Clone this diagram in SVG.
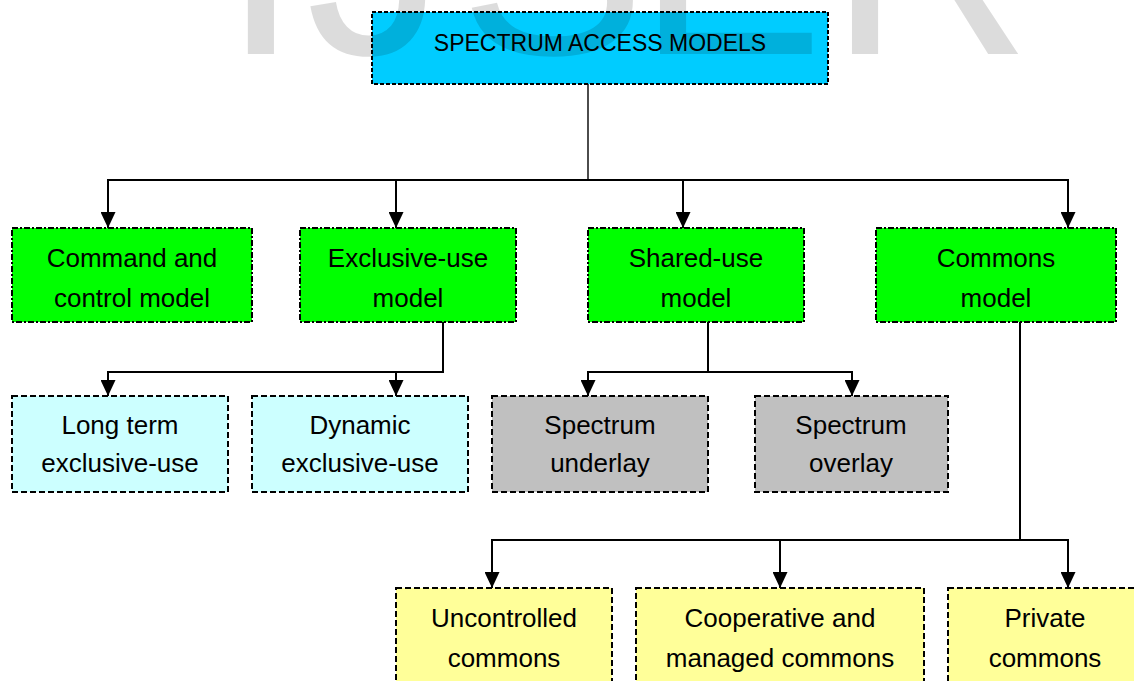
<svg xmlns="http://www.w3.org/2000/svg" width="1134" height="681" viewBox="0 0 1134 681">
  <style>
    .box { stroke: #000; stroke-width: 2; }
    .title { fill: #00CCFF; stroke-dasharray: 4 2; }
    .green { fill: #00FF00; stroke-dasharray: 6 2 2 2; }
    .cyan { fill: #CCFFFF; stroke-dasharray: 6 3; }
    .gray { fill: #C0C0C0; stroke-dasharray: 6 3; }
    .yellow { fill: #FFFF99; stroke-dasharray: 6 3; }
    .lbl { font-family: "Liberation Sans", Arial, sans-serif; font-size: 26px; fill: #000; text-anchor: middle; }
    .ttl { font-family: "Liberation Sans", Arial, sans-serif; font-size: 23px; fill: #000; text-anchor: middle; }
    .conn { fill: none; stroke: #000; stroke-width: 2; }
    .wm { font-family: "Liberation Sans", Arial, sans-serif; font-size: 280px; fill: #000; fill-opacity: 0.137; }
  </style>
  <defs>
    <marker id="arrow" viewBox="0 0 16 15" refX="16" refY="7.5" markerWidth="16" markerHeight="15" orient="auto" markerUnits="userSpaceOnUse">
      <path d="M0,0 L16,7.5 L0,15 z" fill="#000"/>
    </marker>
  </defs>
  <rect width="1134" height="681" fill="#fff"/>

  <g id="connectors">
    <path class="conn" d="M588,84 V180" style="stroke-width:1.4"/>
    <path class="conn" d="M108,228 V180 H1068 V228" marker-end="url(#arrow)"/>
    <path class="conn" d="M108,180 V228" marker-end="url(#arrow)"/>
    <path class="conn" d="M396,180 V228" marker-end="url(#arrow)"/>
    <path class="conn" d="M683,180 V228" marker-end="url(#arrow)"/>
    <path class="conn" d="M443,322 V372 H108 V396" marker-end="url(#arrow)"/>
    <path class="conn" d="M396,372 V396" marker-end="url(#arrow)"/>
    <path class="conn" d="M708,322 V372 H588 V396" marker-end="url(#arrow)"/>
    <path class="conn" d="M708,372 H852 V396" marker-end="url(#arrow)"/>
    <path class="conn" d="M1020,322 V540 H492 V588" marker-end="url(#arrow)"/>
    <path class="conn" d="M1020,540 H1068 V588" marker-end="url(#arrow)"/>
    <path class="conn" d="M780,540 V588" marker-end="url(#arrow)"/>
  </g>

  <g id="root">
    <rect class="box title" x="372" y="12" width="456" height="72"/>
    <text class="ttl" x="600" y="51">SPECTRUM ACCESS MODELS</text>
  </g>

  <g id="command">
    <rect class="box green" x="12" y="228" width="240" height="94"/>
    <text class="lbl" x="132" y="267">Command and</text>
    <text class="lbl" x="132" y="307">control model</text>
  </g>
  <g id="exclusive">
    <rect class="box green" x="300" y="228" width="216" height="94"/>
    <text class="lbl" x="408" y="267">Exclusive-use</text>
    <text class="lbl" x="408" y="307">model</text>
  </g>
  <g id="shared">
    <rect class="box green" x="588" y="228" width="216" height="94"/>
    <text class="lbl" x="696" y="267">Shared-use</text>
    <text class="lbl" x="696" y="307">model</text>
  </g>
  <g id="commons">
    <rect class="box green" x="876" y="228" width="240" height="94"/>
    <text class="lbl" x="996" y="267">Commons</text>
    <text class="lbl" x="996" y="307">model</text>
  </g>

  <g id="longterm">
    <rect class="box cyan" x="12" y="396" width="216" height="96"/>
    <text class="lbl" x="120" y="434">Long term</text>
    <text class="lbl" x="120" y="472">exclusive-use</text>
  </g>
  <g id="dynamic">
    <rect class="box cyan" x="252" y="396" width="216" height="96"/>
    <text class="lbl" x="360" y="434">Dynamic</text>
    <text class="lbl" x="360" y="472">exclusive-use</text>
  </g>
  <g id="underlay">
    <rect class="box gray" x="492" y="396" width="216" height="96"/>
    <text class="lbl" x="600" y="434">Spectrum</text>
    <text class="lbl" x="600" y="472">underlay</text>
  </g>
  <g id="overlay">
    <rect class="box gray" x="755" y="396" width="193" height="96"/>
    <text class="lbl" x="851" y="434">Spectrum</text>
    <text class="lbl" x="851" y="472">overlay</text>
  </g>

  <g id="uncontrolled">
    <rect class="box yellow" x="396" y="588" width="216" height="100"/>
    <text class="lbl" x="504" y="627">Uncontrolled</text>
    <text class="lbl" x="504" y="667">commons</text>
  </g>
  <g id="cooperative">
    <rect class="box yellow" x="636" y="588" width="288" height="100"/>
    <text class="lbl" x="780" y="627">Cooperative and</text>
    <text class="lbl" x="780" y="667">managed commons</text>
  </g>
  <g id="private">
    <rect class="box yellow" x="948" y="588" width="194" height="100"/>
    <text class="lbl" x="1045" y="627">Private</text>
    <text class="lbl" x="1045" y="667">commons</text>
  </g>

  <text class="wm" x="222 306 459 637 829" y="54">IJSER</text>
</svg>
